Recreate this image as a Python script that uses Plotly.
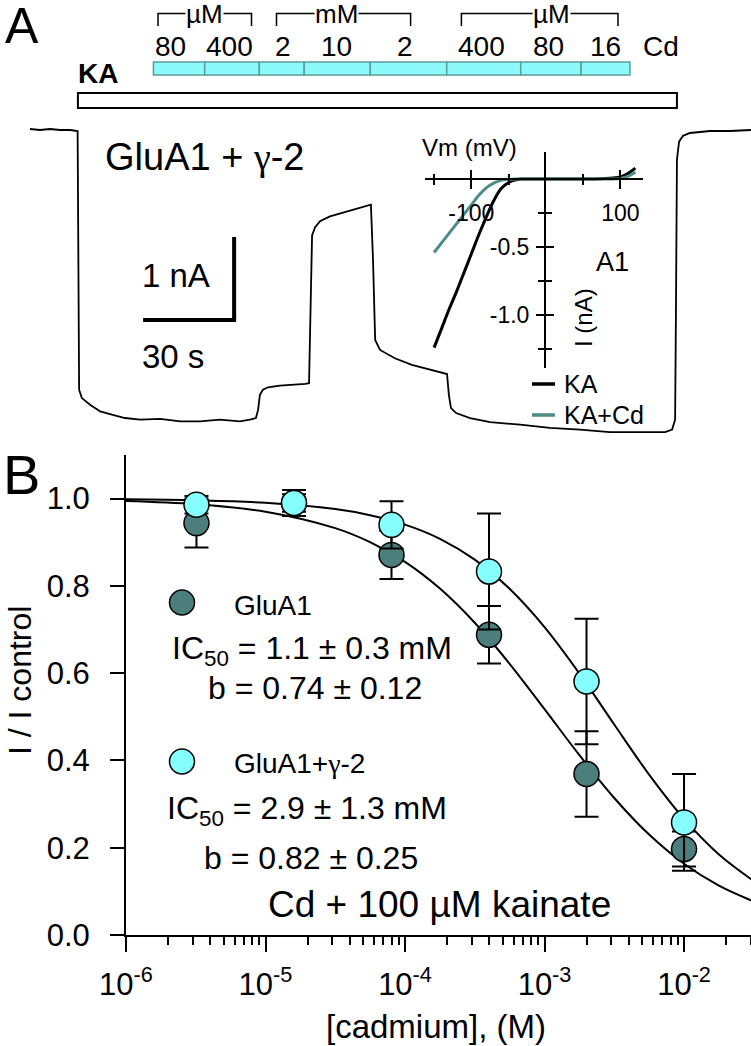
import plotly.graph_objects as go

W, H = 751, 1046
FONT = "Liberation Sans, Arial, sans-serif"

# ---------------- Data ----------------
# Panel A: whole-cell current trace (GluA1 + gamma-2), time in s, current in nA
trace_time_s = [0, 3.3, 6.6, 9.9, 13.2, 15.7, 16.2, 17.1, 19.8, 23.1, 27.0, 31.3, 36.3, 42.9,
                49.5, 56.1, 62.6, 69.2, 72.5, 74.5, 75.2, 75.8, 76.8, 78.5, 82.4, 87.4, 90.7,
                92.0, 92.5, 93.0, 94.0, 95.6, 98.9, 103.9, 108.8, 112.4, 113.1, 113.8, 115.4,
                120.3, 125.9, 131.9, 137.5, 138.1, 138.8, 140.5, 145.1, 151.7, 161.6, 171.4,
                181.3, 191.2, 201.1, 209.4, 211.7, 212.7, 213.0, 213.3, 214.0, 215.3, 217.6,
                224.2, 230.8, 237.7]
trace_current_nA = [0.012, 0.0, 0.012, 0.0, 0.0, -0.012, -3.13, -3.23, -3.31, -3.39, -3.43,
                    -3.47, -3.49, -3.48, -3.51, -3.51, -3.49, -3.51, -3.49, -3.47, -3.37, -3.19,
                    -3.13, -3.10, -3.08, -3.07, -3.06, -3.05, -2.05, -1.27, -1.17, -1.10, -1.04,
                    -0.99, -0.94, -0.90, -1.57, -2.53, -2.65, -2.75, -2.83, -2.89, -2.94, -3.19,
                    -3.35, -3.41, -3.47, -3.52, -3.55, -3.59, -3.61, -3.64, -3.64, -3.64, -3.61,
                    -3.49, -2.05, -0.36, -0.14, -0.07, -0.036, -0.012, -0.012, 0.0]

# Solution application schedule (s)
ka_window_s = [15.8, 213.3]
cd_edges_s = [40.7, 57.6, 75.6, 90.4, 112.2, 137.4, 161.8, 181.7, 197.8]
cd_labels = ["80", "400", "2", "10", "2", "400", "80", "16"]
cd_unit_groups = [("µM", 0, 1), ("mM", 2, 4), ("µM", 5, 7)]

scale_bar_s = 30
scale_bar_nA = 1

# Inset: I-V relation
iv_vm_mV = [-150, -140, -130, -120, -110, -100, -90, -80, -70, -60, -50, -40, -30, -20, -10,
            0, 10, 20, 30, 40, 50, 60, 70, 80, 90, 100, 110, 120]
iv_ka_nA = [-1.24, -1.10, -0.96, -0.83, -0.69, -0.55, -0.41, -0.28, -0.16, -0.07, -0.025,
            -0.006, 0.0, 0.0, 0.0, 0.0, 0.0, 0.0, 0.0, 0.0, 0.0, 0.0, 0.002, 0.004, 0.008,
            0.015, 0.04, 0.08]
iv_kacd_nA = [-0.54, -0.47, -0.40, -0.33, -0.26, -0.19, -0.12, -0.065, -0.03, -0.01, -0.003,
              0.0, 0.0, 0.0, 0.0, 0.0, 0.0, 0.0, 0.0, 0.0, 0.0, 0.0, 0.0, 0.0, 0.0, 0.005,
              0.02, 0.05]

# Panel B: concentration-response
cd_conc_M = [3.2e-6, 1.6e-5, 8e-5, 4e-4, 2e-3, 1e-2]
glua1_mean = [0.944, 0.990, 0.871, 0.688, 0.369, 0.197]
glua1_sem = [0.056, 0.020, 0.055, 0.066, 0.098, 0.040]
glua1_g2_mean = [0.986, 0.990, 0.940, 0.833, 0.581, 0.258]
glua1_g2_sem = [0.020, 0.030, 0.054, 0.133, 0.144, 0.111]

fit_conc_M = [1e-6, 3.16e-6, 1e-5, 3.16e-5, 5.62e-5, 1e-4, 1.78e-4, 3.16e-4, 5.62e-4, 1e-3,
              1.78e-3, 3.16e-3, 5.62e-3, 1e-2, 1.78e-2, 3.16e-2]
fit_glua1 = [0.9944, 0.9870, 0.9701, 0.9325, 0.9003, 0.8550, 0.7938, 0.7156, 0.6216, 0.5176,
             0.4120, 0.3140, 0.2301, 0.1633, 0.1131, 0.0769]
fit_glua1_g2 = [0.9986, 0.9963, 0.9905, 0.9760, 0.9621, 0.9405, 0.9080, 0.8602, 0.7933,
                0.7054, 0.5989, 0.4823, 0.3675, 0.2660, 0.1844, 0.1236]

# ---------------- Styles / helpers ----------------
DARK = "#4B7E7C"
CYAN = "#86FFFF"
TEAL_IV = "#4D8B8B"
CD_FILL = "#8CFAFA"
CD_EDGE = "#5F9C9C"
GAMMA = '<span style="font-family:Liberation Serif, DejaVu Serif, serif">γ</span>'


def px(x):
    return x / W


def py(y):
    return 1 - y / H


fig = go.Figure()

# ---- Panel A trace (x2 / y2) ----
fig.add_trace(go.Scatter(x=trace_time_s, y=trace_current_nA, mode="lines",
                         line=dict(color="black", width=1.8), xaxis="x2", yaxis="y2",
                         showlegend=False, hoverinfo="skip"))

# ---- Inset IV (x3 / y3) ----
fig.add_trace(go.Scatter(x=iv_vm_mV, y=iv_ka_nA, mode="lines", line=dict(color="black", width=3, shape="spline"),
                         xaxis="x3", yaxis="y3", showlegend=False, hoverinfo="skip"))
fig.add_trace(go.Scatter(x=iv_vm_mV, y=iv_kacd_nA, mode="lines", line=dict(color=TEAL_IV, width=3, shape="spline"),
                         xaxis="x3", yaxis="y3", showlegend=False, hoverinfo="skip"))
fig.add_trace(go.Scatter(x=[], y=[], xaxis="x4", yaxis="y4", showlegend=False))

# ---- Panel B (x / y) ----
fig.add_trace(go.Scatter(x=fit_conc_M, y=fit_glua1, mode="lines",
                         line=dict(color="black", width=2, shape="spline"), showlegend=False))
fig.add_trace(go.Scatter(x=fit_conc_M, y=fit_glua1_g2, mode="lines",
                         line=dict(color="black", width=2, shape="spline"), showlegend=False))
fig.add_trace(go.Scatter(x=cd_conc_M, y=glua1_mean, mode="markers",
                         marker=dict(size=25, color=DARK, line=dict(color="black", width=1.5)),
                         error_y=dict(type="data", array=glua1_sem, color="black", thickness=2, width=12),
                         cliponaxis=False, showlegend=False))
fig.add_trace(go.Scatter(x=cd_conc_M, y=glua1_g2_mean, mode="markers",
                         marker=dict(size=25, color=CYAN, line=dict(color="black", width=1.5)),
                         error_y=dict(type="data", array=glua1_g2_sem, color="black", thickness=2, width=12),
                         cliponaxis=False, showlegend=False))

shapes = []
ann = []


def text(x, y, s, size, xanchor="center", yanchor="middle", ref=("paper", "paper"), **kw):
    ann.append(dict(x=x, y=y, xref=ref[0], yref=ref[1], text=s, showarrow=False,
                    xanchor=xanchor, yanchor=yanchor,
                    font=dict(family=FONT, size=size, color="black"), **kw))


# ---- Panel A decorations ----
text(px(3), py(26), "A", 50, xanchor="left")

# KA bar
shapes.append(dict(type="rect", xref="x2", yref="paper", x0=ka_window_s[0], x1=ka_window_s[1],
                   y0=py(108), y1=py(93), fillcolor="white", line=dict(color="black", width=2)))
text(px(76), py(73), "<b>KA</b>", 28, xanchor="left")

# Cd bar segments
for i in range(len(cd_labels)):
    shapes.append(dict(type="rect", xref="x2", yref="paper", x0=cd_edges_s[i], x1=cd_edges_s[i + 1],
                       y0=py(75), y1=py(62), fillcolor=CD_FILL, line=dict(color=CD_EDGE, width=1.5)))
cd_label_t = [46.3, 65.9, 83.4, 101.2, 123.6, 148.9, 171.0, 189.7]
for lab, t in zip(cd_labels, cd_label_t):
    text(t, py(46), lab, 28, ref=("x2", "paper"))
text(px(661), py(46), "Cd", 28)

# unit brackets
bracket_px = [(158, 251.5, 204), (276.5, 410.6, 336.6), (461.4, 618, 551)]
for (unit, i0, i1), (bx0, bx1, tx) in zip(cd_unit_groups, bracket_px):
    shapes.append(dict(type="path", xref="paper", yref="paper",
                       path=f"M {px(bx0)} {py(26)} L {px(bx0)} {py(13.5)} L {px(bx1)} {py(13.5)} L {px(bx1)} {py(26)}",
                       line=dict(color="black", width=1.5)))
    text(px(tx), py(14), unit, 26, bgcolor="white", borderpad=0)

# labels & scale bar
text(px(205), py(157), f"GluA1 + {GAMMA}-2", 38)
bar_corner_t, bar_corner_I = 67.3, -2.29
shapes.append(dict(type="path", xref="x2", yref="y2",
                   path=f"M {bar_corner_t - scale_bar_s} {bar_corner_I} L {bar_corner_t} {bar_corner_I} "
                        f"L {bar_corner_t} {bar_corner_I + scale_bar_nA}",
                   line=dict(color="black", width=4)))
text(px(176), py(275), f"{scale_bar_nA} nA", 33)
text(px(173), py(356), f"{scale_bar_s} s", 33)

# inset texts
text(px(469), py(148), "Vm (mV)", 24)
text(px(584), py(318), "I (nA)", 24, textangle=-90)
text(px(612), py(262), "A1", 27)
shapes.append(dict(type="line", xref="paper", yref="paper", x0=px(532), x1=px(555), y0=py(384), y1=py(384),
                   line=dict(color="black", width=3.5)))
shapes.append(dict(type="line", xref="paper", yref="paper", x0=px(532), x1=px(555), y0=py(415), y1=py(415),
                   line=dict(color=TEAL_IV, width=3.5)))
text(px(562), py(384), "KA", 25, xanchor="left")
text(px(562), py(415), "KA+Cd", 25, xanchor="left")

# ---- Panel B decorations ----
text(px(1), py(475), "B", 56, xanchor="left")
for cy, col in [(602.5, DARK), (761.5, CYAN)]:
    shapes.append(dict(type="circle", xref="paper", yref="paper", x0=px(169.5), x1=px(194.5),
                       y0=py(cy + 12.5), y1=py(cy - 12.5), fillcolor=col, line=dict(color="black", width=1.5)))
text(px(232), py(605), "GluA1", 28, xanchor="left")
text(px(170), py(650), "IC<sub>50</sub> = 1.1 ± 0.3 mM", 32, xanchor="left")
text(px(206), py(688), "b = 0.74 ± 0.12", 32, xanchor="left")
text(px(232), py(763), f"GluA1+{GAMMA}-2", 28, xanchor="left")
text(px(165), py(810), "IC<sub>50</sub> = 2.9 ± 1.3 mM", 32, xanchor="left")
text(px(202), py(858), "b = 0.82 ± 0.25", 32, xanchor="left")
text(px(440), py(904), "Cd + 100 µM kainate", 37)
text(px(20), py(681), "I / I control", 32, textangle=-90)
text(px(436), py(1026), "[cadmium], (M)", 33)

dec_vals = [1e-6, 1e-5, 1e-4, 1e-3, 1e-2]
dec_text = ["10<sup>-6</sup>", "10<sup>-5</sup>", "10<sup>-4</sup>", "10<sup>-3</sup>", "10<sup>-2</sup>"]
minor_vals = [m * d for d in [1e-6, 1e-5, 1e-4, 1e-3, 1e-2] for m in range(2, 10)]

axis_common = dict(showgrid=False, zeroline=False, showline=True, linecolor="black", linewidth=2,
                   tickcolor="black", tickwidth=2, automargin=False,
                   tickfont=dict(family=FONT, size=31, color="black"))

fig.update_layout(
    template="none",
    width=W, height=H, autosize=False,
    margin=dict(l=0, r=0, t=0, b=0, pad=0),
    paper_bgcolor="white", plot_bgcolor="rgba(0,0,0,0)",
    showlegend=False,
    xaxis=dict(type="log", domain=[px(126), 1], range=[-6, -1.52], anchor="y",
               ticks="outside", ticklen=15, tickvals=dec_vals, ticktext=dec_text,
               minor=dict(tickvals=minor_vals, ticks="outside", ticklen=8, tickwidth=2, tickcolor="black"),
               ticklabelstandoff=6, **axis_common),
    yaxis=dict(domain=[py(935), py(455)], range=[0, 1.1], anchor="x",
               ticks="outside", ticklen=14, tickvals=[0, 0.2, 0.4, 0.6, 0.8, 1.0],
               ticktext=["0.0", "0.2", "0.4", "0.6", "0.8", "1.0"], ticklabelstandoff=14, **axis_common),
    xaxis2=dict(domain=[0, 1], range=[-30 / 3.033, (751 - 30) / 3.033], anchor="y2", visible=False,
                automargin=False),
    yaxis2=dict(domain=[py(445), py(110)], range=[-(445 - 130) / 83, (130 - 110) / 83], anchor="x2",
                visible=False, automargin=False),
    xaxis3=dict(domain=[px(425), px(643)], range=[-162.2, 130.3], anchor="free", position=py(179),
                showgrid=False, zeroline=False, showline=True, linecolor="black", linewidth=2,
                ticks="outside", ticklen=9, tickwidth=2, tickcolor="black", automargin=False,
                tickvals=[-100, 100], ticktext=["-100", "100"], ticklabelstandoff=4,
                minor=dict(tickvals=[-150, -50, 50], ticks="outside", ticklen=5, tickwidth=2, tickcolor="black"),
                tickfont=dict(family=FONT, size=23, color="black")),
    yaxis3=dict(domain=[py(368), py(152)], range=[-1.39, 0.199], anchor="free", position=px(545),
                showgrid=False, zeroline=False, showline=True, linecolor="black", linewidth=2,
                ticks="outside", ticklen=8, tickwidth=2, tickcolor="black", automargin=False,
                tickvals=[-0.5, -1.0], ticktext=["-0.5", "-1.0"], ticklabelstandoff=2,
                minor=dict(tickvals=[-0.25, -0.75, -1.25], ticks="outside", ticklen=6, tickwidth=2, tickcolor="black"),
                tickfont=dict(family=FONT, size=23, color="black")),
    xaxis4=dict(overlaying="x3", range=[-162.2, 130.3], anchor="free", position=py(179),
                showgrid=False, zeroline=False, showline=False, showticklabels=False, automargin=False,
                ticks="inside", ticklen=9, tickwidth=2, tickcolor="black", tickvals=[-100, 100],
                minor=dict(tickvals=[-150, -50, 50], ticks="inside", ticklen=5, tickwidth=2, tickcolor="black")),
    yaxis4=dict(overlaying="y3", range=[-1.39, 0.199], anchor="free", position=px(545),
                showgrid=False, zeroline=False, showline=False, showticklabels=False, automargin=False,
                ticks="inside", ticklen=8, tickwidth=2, tickcolor="black", tickvals=[-0.5, -1.0],
                minor=dict(tickvals=[-0.25, -0.75, -1.25], ticks="inside", ticklen=6, tickwidth=2, tickcolor="black")),
    shapes=shapes,
    annotations=ann,
)

fig.write_html("out.html", config={"displayModeBar": False},
               post_script="document.body.style.margin='0';document.body.style.padding='0';"
                           "document.body.style.overflow='hidden';")
